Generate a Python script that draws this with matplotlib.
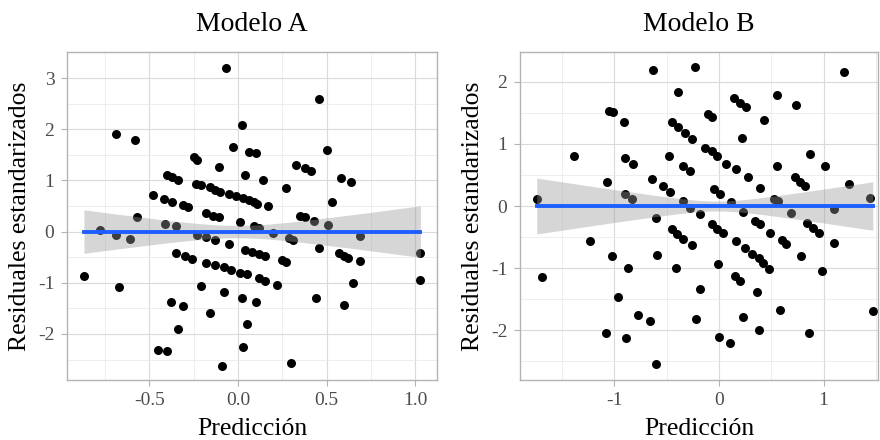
import numpy as np
import matplotlib
matplotlib.use("Agg")
import matplotlib.pyplot as plt
from matplotlib.ticker import MultipleLocator

# ── Data ──
pred_a = [-0.07, -0.69, -0.58, 0.02, -0.03, 0.06, -0.25, -0.23, -0.11, 0.04, -0.40, -0.37, -0.34,
          -0.24, -0.21, -0.16, -0.13, -0.10, -0.05, -0.01, 0.03, 0.06, -0.48, -0.42, -0.37, -0.31, -0.28,
          0.46, 0.10, 0.50, 0.33, 0.38, 0.41, 0.14, 0.27, 0.58, 0.64, 0.09, 0.11, 0.17, 0.53,
          -0.57, -0.78, -0.69, -0.61, -0.87, -0.67, -0.41, -0.35, -0.18, -0.14, -0.11, 0.01, -0.23,
          -0.18, -0.13, -0.05, 0.04, -0.35, -0.30, -0.26, -0.18, -0.13, -0.08, -0.04, 0.01, 0.05,
          -0.21, -0.08, 0.02, -0.38, -0.31, -0.16, 0.05, -0.34, 0.03, -0.45, -0.40, -0.09,
          0.09, 0.12, 0.20, 0.29, 0.31, 0.35, 0.38, 0.43, 0.51, 0.69, 1.03, 1.03, 0.46, 0.57, 0.60,
          0.62, 0.69, 0.08, 0.12, 0.15, 0.25, 0.27, 0.12, 0.15, 0.22, 0.65, 0.10, 0.44, 0.60, 0.30]
res_a = [3.20, 1.91, 1.79, 2.08, 1.66, 1.56, 1.45, 1.40, 1.26, 1.10, 1.10, 1.06, 1.01,
         0.93, 0.91, 0.88, 0.81, 0.78, 0.74, 0.70, 0.65, 0.62, 0.72, 0.63, 0.57, 0.52, 0.49,
         2.60, 1.53, 1.60, 1.30, 1.24, 1.19, 1.00, 0.86, 1.04, 0.96, 0.57, 0.54, 0.50, 0.57,
         0.29, 0.03, -0.07, -0.15, -0.87, -1.09, 0.14, 0.10, 0.36, 0.31, 0.28, 0.18, -0.06,
         -0.11, -0.16, -0.25, -0.36, -0.42, -0.47, -0.53, -0.61, -0.65, -0.70, -0.75, -0.80, -0.83,
         -1.06, -1.19, -1.29, -1.38, -1.45, -1.59, -1.80, -1.90, -2.25, -2.32, -2.34, -2.62,
         0.11, 0.07, -0.03, -0.12, -0.16, 0.31, 0.28, 0.21, 0.13, -0.08, -0.42, -0.94, -0.32, -0.42, -0.47,
         -0.51, -0.57, -0.39, -0.44, -0.47, -0.55, -0.59, -0.91, -0.96, -1.04, -1.01, -1.37, -1.30, -1.43, -2.56]

pred_b = [-1.74, -1.38, -1.07, -1.05, -1.01, -0.91, -0.63, -0.23, -0.39, -0.90, -0.82, -0.48, -0.64,
          -0.45, -0.39, -0.32, -0.26, -0.34, -0.28, -0.53, -0.47, -0.90, -0.83, -0.34,
          1.19, 0.14, 0.20, 0.26, 0.55, 0.74, -0.10, -0.07, 0.43, 0.22, -0.13, -0.07, -0.02, 0.07,
          0.16, 0.28, 0.39, 0.87, 1.01, 0.55, 0.73, 0.77, 0.82, 1.24, 1.44, 0.53, -0.05, 0.01, 0.12,
          -1.69, -1.23, -1.02, -0.87, -0.60, -0.59, -0.45, -0.40, -0.34, -0.26, -0.41, -0.96, -0.77,
          -0.66, -1.08, -0.89, -0.60, -0.18, -0.22, -0.28, -0.18,
          0.23, 0.56, 0.69, 1.10, -0.07, -0.02, 0.04, 0.34, 0.39, 0.49, 0.84, 0.90, 0.96, 1.10,
          0.16, 0.25, 0.32, 0.38, 0.42, 0.48, 0.60, 0.64, 0.78, 0.98, -0.01, 0.15, 0.20, 0.36,
          0.58, 1.47, 0.23, 0.38, 0.86, 0.00, 0.11]
res_b = [0.11, 0.81, 0.39, 1.53, 1.51, 1.36, 2.19, 2.23, 1.84, 0.78, 0.67, 0.81, 0.44,
         1.36, 1.27, 1.18, 1.08, 0.64, 0.56, 0.32, 0.22, 0.20, 0.12, 0.08,
         2.15, 1.74, 1.66, 1.59, 1.78, 1.62, 1.48, 1.43, 1.39, 1.10, 0.94, 0.88, 0.80, 0.67,
         0.59, 0.46, 0.29, 0.84, 0.64, 0.64, 0.46, 0.38, 0.33, 0.36, 0.13, 0.12, 0.27, 0.19, 0.07,
         -1.15, -0.56, -0.80, -1.00, -0.19, -0.79, -0.37, -0.45, -0.53, -0.63, -1.00, -1.47, -1.75,
         -1.85, -2.04, -2.12, -2.55, -1.33, -1.82, -0.03, -0.13,
         -0.10, 0.08, -0.11, -0.04, -0.29, -0.37, -0.44, -0.24, -0.29, -0.43, -0.27, -0.35, -0.43, -0.60,
         -0.56, -0.67, -0.77, -0.84, -0.92, -1.01, -0.54, -0.61, -0.80, -1.04, -0.93, -1.13, -1.21, -1.39,
         -1.68, -1.69, -1.79, -1.99, -2.05, -2.11, -2.20]

# confidence band of the lm smoother: half width = sqrt(a + b*(x - c)^2)
band_a = (0.0144, 0.2226, -0.006)
band_b = (0.0064, 0.066, -0.017)

plt.rcParams['font.family'] = ['Liberation Serif', 'DejaVu Serif']
plt.rcParams['axes.unicode_minus'] = False

fig = plt.figure(figsize=(8.8, 4.4), dpi=100)

panels = [
    ("Modelo A", pred_a, res_a, band_a, [0.0761, 0.1364, 0.4205, 0.7455],
     (-0.966, 1.124), (-2.90, 3.51), 0.5),
    ("Modelo B", pred_b, res_b, band_b, [0.5909, 0.1364, 0.4068, 0.7455],
     (-1.90, 1.519), (-2.80, 2.48), 1.0),
]

for title, xs, ys, band, rect, xlim, ylim, xstep in panels:
    ax = fig.add_axes(rect)
    ax.scatter(xs, ys, s=42, color="black", linewidths=0, zorder=2)

    xg = np.linspace(min(xs), max(xs), 200)
    a, b, c = band
    hw = np.sqrt(a + b * (xg - c) ** 2)
    ax.fill_between(xg, -hw, hw, color="#999999", alpha=0.4, linewidth=0, zorder=3)
    ax.plot(xg, np.zeros_like(xg), color="#1f5fff", linewidth=2.8, zorder=4)

    ax.set_xlim(*xlim)
    ax.set_ylim(*ylim)
    ax.xaxis.set_major_locator(MultipleLocator(xstep))
    ax.xaxis.set_minor_locator(MultipleLocator(xstep / 2))
    ax.yaxis.set_major_locator(MultipleLocator(1))
    ax.yaxis.set_minor_locator(MultipleLocator(0.5))
    if xstep == 0.5:
        ax.xaxis.set_major_formatter(plt.FormatStrFormatter("%.1f"))
    else:
        ax.xaxis.set_major_formatter(plt.FormatStrFormatter("%d"))

    ax.grid(which="major", color="#dadada", linewidth=0.8, zorder=0)
    ax.grid(which="minor", color="#e8e8e8", linewidth=0.5, zorder=0)
    ax.set_axisbelow(True)
    for sp in ax.spines.values():
        sp.set_color("#b3b3b3")
        sp.set_linewidth(1.0)
    ax.tick_params(which="major", length=4, color="#b3b3b3", labelcolor="#4d4d4d",
                   labelsize=14, pad=5)
    ax.tick_params(which="minor", length=0)

    ax.set_title(title, fontsize=20, pad=15)
    ax.set_xlabel("Predicción", fontsize=18.5, labelpad=6)
    ax.set_ylabel("Residuales estandarizados", fontsize=18.5, labelpad=5)

fig.savefig("out.png", dpi=100)
